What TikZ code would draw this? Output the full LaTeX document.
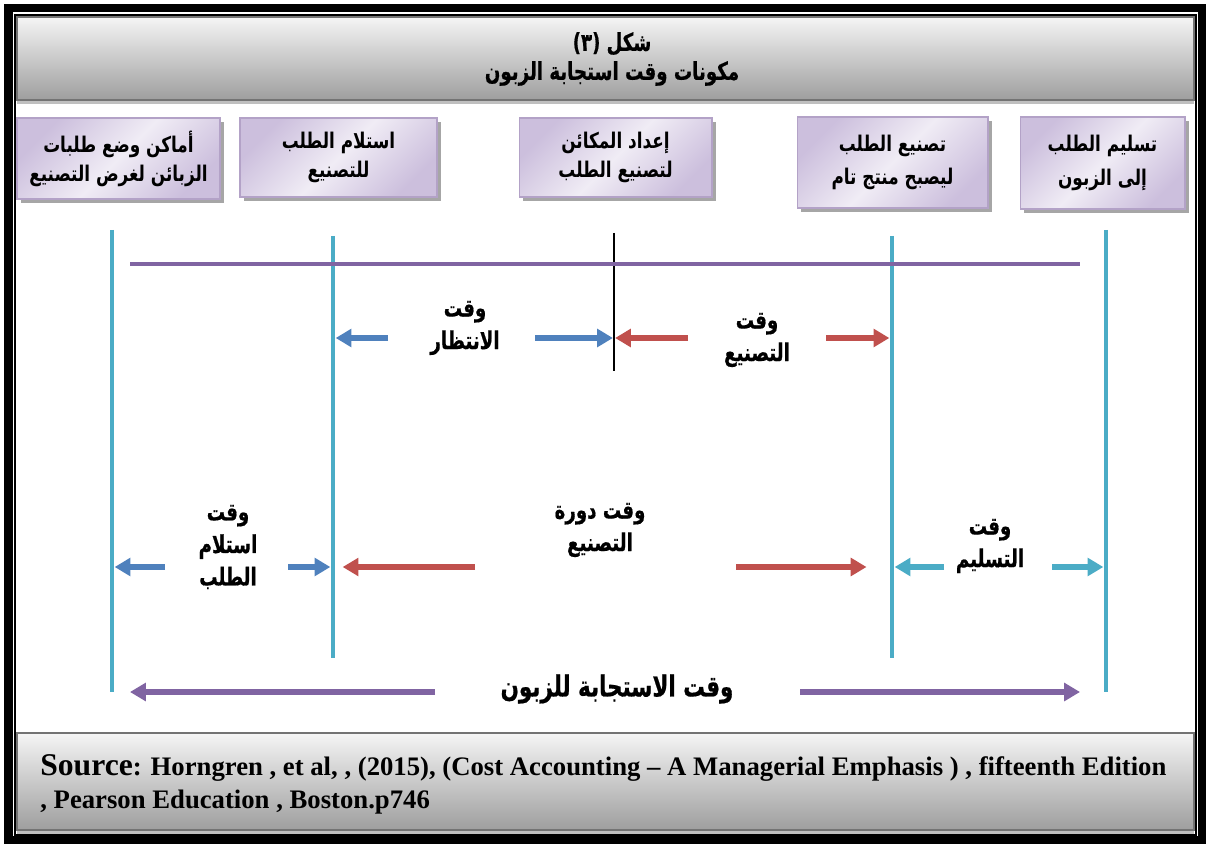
\documentclass[tikz,border=0pt]{standalone}
\usepackage{fontspec}
\usepackage{tikz}
\usetikzlibrary{arrows.meta,shadows}
\setmainfont{Liberation Serif}
\newfontfamily\arabicfont[Script=Arabic, FakeStretch=0.78]{DejaVu Sans}
\newfontfamily\arabicnarrow[Script=Arabic, FakeStretch=0.74, BoldFeatures={FakeBold=0.6}]{DejaVu Sans}
\TeXXeTstate=1
\newcommand{\ar}[1]{{\arabicfont\bfseries\beginR #1\endR}}
\newcommand{\arn}[1]{{\arabicnarrow\bfseries\beginR #1\endR}}
\definecolor{vcyan}{HTML}{4BACC6}
\definecolor{ablue}{HTML}{4F81BD}
\definecolor{ared}{HTML}{C0504D}
\definecolor{apurple}{HTML}{8064A2}
\definecolor{boxedge}{HTML}{B3A2C7}
\definecolor{boxtop}{HTML}{CCBFDD}
\definecolor{boxmid}{HTML}{F0ECF5}
\begin{document}
\begin{tikzpicture}
	[
	x=0.02cm, y=-0.02cm,
	align=center,
	stage/.style={draw=boxedge, line width=0.6pt, inner sep=0pt,
		top color=boxtop, bottom color=boxtop, middle color=boxmid, shading angle=45,
		drop shadow={shadow xshift=2.2pt, shadow yshift=-2.4pt, fill=black!35, opacity=1},
		font=\fontsize{12.3}{16.5}\selectfont},
	tallstage/.style={stage, font=\fontsize{12.3}{19}\selectfont},
	band/.style={draw=black!55, line width=1.2pt, top color=black!4, bottom color=black!38},
	vline/.style={draw=vcyan, line width=2.3pt},
	lbl/.style={font=\fontsize{14}{18.5}\selectfont},
	span/.style={line width=3.4pt, -{Triangle[length=9pt,width=10pt]}},
	]
		\useasboundingbox (0,0) rectangle (1206,844);
		
		% frame
		\draw[line width=5.1pt] (8.5,8) rectangle (1202.5,840.5);
		\draw[line width=0.7pt] (15,15) rectangle (1196,835);
		
		% title band
		\path[band, drop shadow={shadow xshift=0pt, shadow yshift=-2pt, fill=black!25, opacity=1}]
			(17,17) rectangle (1194,100);
		\node[font=\fontsize{14}{16.5}\selectfont] (ttl) at ( 612, 59 )
			{{\arabicnarrow\bfseries (٣)}\ \arn{شكل}\\\arn{مكونات وقت استجابة الزبون}};
		
		% stages
		\node[stage, minimum width=4.06cm, minimum height=1.62cm] (s1) at ( 118.5, 158.5 )
			{\ar{أماكن وضع طلبات}\\\ar{الزبائن لغرض التصنيع}};
		\node[stage, minimum width=3.94cm, minimum height=1.58cm] (s2) at ( 338.5, 157.5 )
			{\ar{استلام الطلب}\\\ar{للتصنيع}};
		\node[stage, minimum width=3.86cm, minimum height=1.58cm] (s3) at ( 615.5, 157.5 )
			{\ar{إعداد المكائن}\\\ar{لتصنيع الطلب}};
		\node[tallstage, minimum width=3.82cm, minimum height=1.82cm] (s4) at ( 892.5, 162.5 )
			{\ar{تصنيع الطلب}\\\ar{ليصبح منتج تام}};
		\node[tallstage, minimum width=3.30cm, minimum height=1.84cm] (s5) at ( 1102.5, 163 )
			{\ar{تسليم الطلب}\\\ar{إلى الزبون}};
		
		% time lines
		\coordinate (Atop) at ( 112, 230 );	\coordinate (Abot) at ( 112, 692 );
		\coordinate (Btop) at ( 333, 236 );	\coordinate (Bbot) at ( 333, 658 );
		\coordinate (Dtop) at ( 892, 236 );	\coordinate (Dbot) at ( 892, 658 );
		\coordinate (Etop) at ( 1106, 230 );	\coordinate (Ebot) at ( 1106, 692 );
		\coordinate (Ctop) at ( 614, 233 );	\coordinate (Cbot) at ( 614, 371 );
		\foreach \from/\to in {Atop/Abot,Btop/Bbot,Dtop/Dbot,Etop/Ebot} \draw[vline] (\from) -- (\to);
		\draw[line width=0.9pt] (Ctop) -- (Cbot);
		
		% overall span
		\coordinate (ql) at ( 130, 264 );	\coordinate (qr) at ( 1080, 264 );
		\draw[draw=apurple, line width=2.8pt] (ql) -- (qr);
		
		% waiting and manufacturing time
		\node[lbl] (wait) at ( 465, 328 ) {\arn{وقت}\\\arn{الانتظار}};
		\node[lbl] (make) at ( 757, 340 ) {\arn{وقت}\\\arn{التصنيع}};
		\coordinate (w1) at ( 388, 338 );	\coordinate (w2) at ( 535, 338 );
		\coordinate (m1) at ( 688, 338 );	\coordinate (m2) at ( 826, 338 );
		\draw[span, draw=ablue, shorten >=1.5pt] (w1) -- (w1 -| Btop);
		\draw[span, draw=ablue, shorten >=0.6pt] (w2) -- (w2 -| Ctop);
		\draw[span, draw=ared, shorten >=0.6pt] (m1) -- (m1 -| Ctop);
		\draw[span, draw=ared, shorten >=1.5pt] (m2) -- (m2 -| Dtop);
		
		% receipt, cycle and delivery time
		\node[lbl] (recv) at ( 228, 547 ) {\arn{وقت}\\\arn{استلام}\\\arn{الطلب}};
		\node[lbl] (cycle) at ( 600, 530 ) {\arn{وقت دورة}\\\arn{التصنيع}};
		\node[lbl] (deliv) at ( 990, 546 ) {\arn{وقت}\\\arn{التسليم}};
		\coordinate (r1) at ( 165, 567 );	\coordinate (r2) at ( 288, 567 );
		\coordinate (c1) at ( 475, 567 );	\coordinate (c2) at ( 736, 567 );
		\coordinate (d1) at ( 944, 567 );	\coordinate (d2) at ( 1052, 567 );
		\draw[span, draw=ablue, shorten >=1.5pt] (r1) -- (r1 -| Atop);
		\draw[span, draw=ablue, shorten >=1.5pt] (r2) -- (r2 -| Btop);
		\draw[span, draw=ared, shorten >=5.5pt] (c1) -- (c1 -| Btop);
		\draw[span, draw=ared, shorten >=14.5pt] (c2) -- (c2 -| Dtop);
		\draw[span, draw=vcyan, shorten >=1.5pt] (d1) -- (d1 -| Dtop);
		\draw[span, draw=vcyan, shorten >=1.5pt] (d2) -- (d2 -| Etop);
		
		% customer response time
		\node[font=\fontsize{16.5}{18}\selectfont] (resp) at ( 617, 689 ) {\arn{وقت الاستجابة للزبون}};
		\coordinate (p1) at ( 435, 692 );	\coordinate (pl) at ( 130, 692 );
		\coordinate (p2) at ( 800, 692 );	\coordinate (pr) at ( 1080, 692 );
		\draw[span, draw=apurple] (p1) -- (pl);
		\draw[span, draw=apurple] (p2) -- (pr);
		
		% source band
		\path[band, drop shadow={shadow xshift=0pt, shadow yshift=-2pt, fill=black!25, opacity=1}]
			(17,733) rectangle (1194,830);
		\node[anchor=north west, align=left, inner sep=0pt, font=\bfseries\fontsize{15.2}{19}\selectfont] (src) at ( 40, 754 )
			{{\fontsize{18}{19}\selectfont Source}: Horngren , et al, , (2015), (Cost Accounting – A Managerial Emphasis ) , fifteenth Edition\\
			, Pearson Education , Boston.p746};
		
	\end{tikzpicture}
\end{document}
